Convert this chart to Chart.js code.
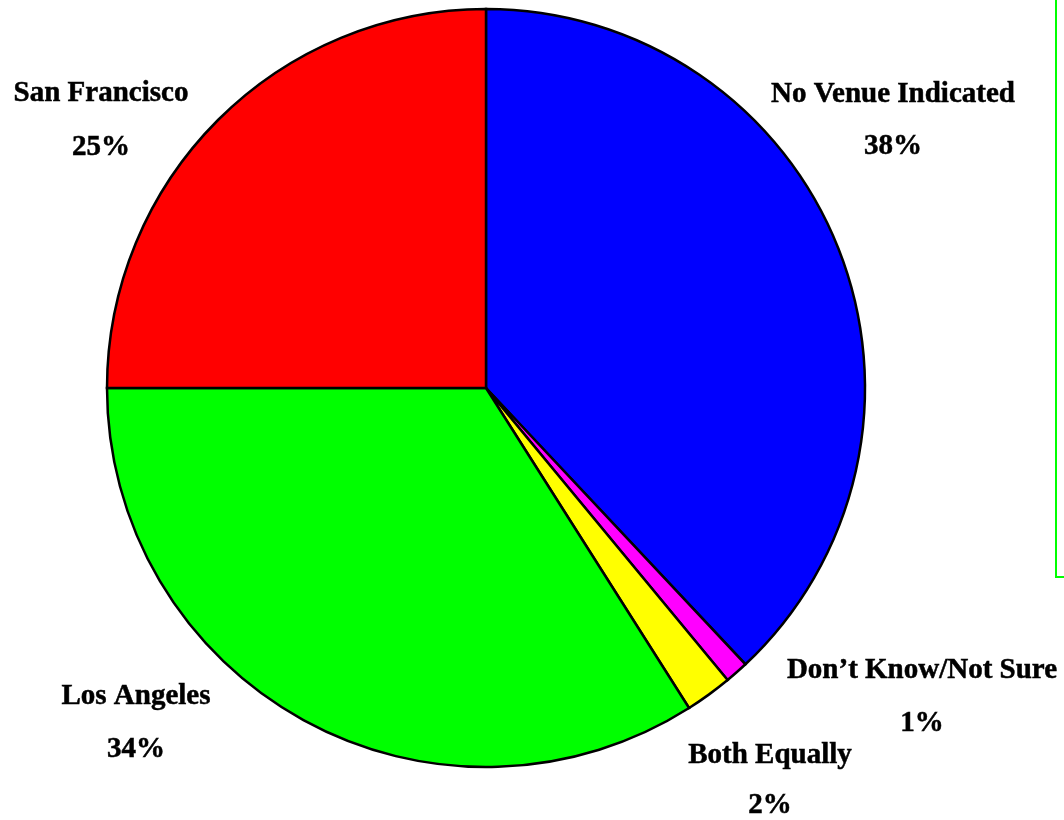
<!DOCTYPE html>
<html>
<head>
<meta charset="utf-8">
<title>Venue preference</title>
<script src="https://cdn.jsdelivr.net/npm/chart.js@4/dist/chart.umd.min.js"></script>
<style>
  html, body { margin: 0; padding: 0; background: #fff; }
  canvas { display: block; }
</style>
</head>
<body>
<canvas id="chart-1" width="1064" height="820"></canvas>
<script>
// slices, clockwise from 12 o'clock
const categories = ['No Venue Indicated', 'Don\u2019t Know/Not Sure', 'Both Equally', 'Los Angeles', 'San Francisco'];
const shares     = [38, 1, 2, 34, 25];
const colors     = ['#0000ff', '#ff00ff', '#ffff00', '#00ff00', '#ff0000'];

// where each label sits: [centre x, name baseline, percent baseline]
const labelSpots = [
    [893, 102, 154],
    [922, 678, 731],
    [770, 763, 813],
    [136, 704, 757],
    [101, 101, 155]
];

const sliceLabels = {
    id: 'sliceLabels',
    afterDraw(chart) {
        const ctx = chart.ctx;
        ctx.save();
        ctx.fillStyle = '#000';
        ctx.strokeStyle = '#000';
        ctx.lineWidth = 0.5;
        ctx.font = 'bold 29px "Liberation Serif", "Times New Roman", serif';
        ctx.textAlign = 'center';
        ctx.textBaseline = 'alphabetic';
        chart.data.labels.forEach((name, i) => {
            const [x, y1, y2] = labelSpots[i];
            const pct = chart.data.datasets[0].data[i] + '%';
            ctx.fillText(name, x, y1);
            ctx.strokeText(name, x, y1);
            ctx.fillText(pct, x, y2);
            ctx.strokeText(pct, x, y2);
        });

        // empty legend frame on the right edge
        ctx.strokeStyle = '#00ff00';
        ctx.lineWidth = 2;
        ctx.strokeRect(1056, -4, 30, 581);
        ctx.restore();
    }
};

const ctx = document.getElementById('chart-1').getContext('2d');

new Chart(ctx, {
    type: 'pie',
    data: {
        labels: categories,
        datasets: [{
            data: shares,
            backgroundColor: colors,
            borderColor: '#000',
            borderWidth: 2.5,
            borderJoinStyle: 'miter'
        }]
    },
    options: {
        responsive: false,
        animation: false,
        radius: 379,
        layout: { padding: { left: 107, right: 199, top: 9, bottom: 53 } },
        plugins: {
            legend: { display: false },
            tooltip: { enabled: false }
        }
    },
    plugins: [sliceLabels]
});
</script>
</body>
</html>
